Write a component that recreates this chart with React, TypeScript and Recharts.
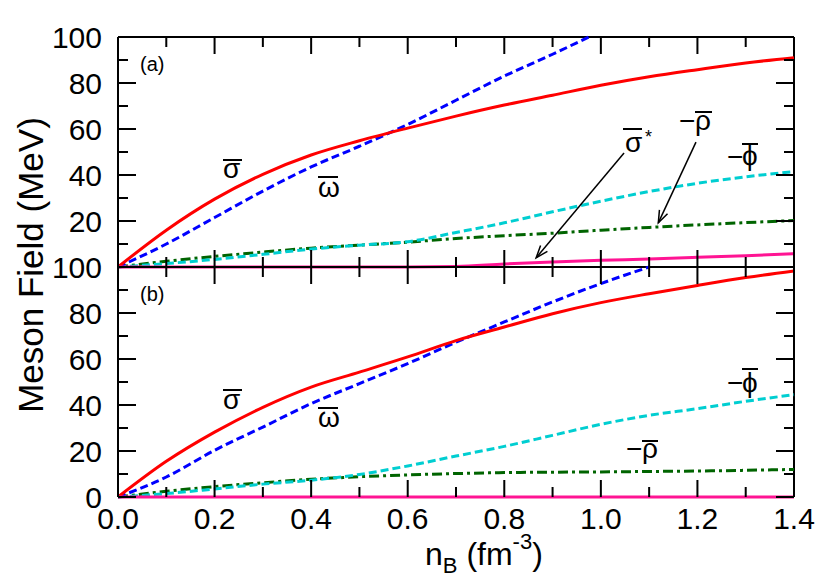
import React from 'react'
import { LineChart, Line, XAxis, YAxis, ReferenceLine } from 'recharts'

// density grid (fm^-3) and tick values
const nB = [0, 0.1, 0.2, 0.3, 0.4, 0.5, 0.6, 0.7, 0.8, 0.9, 1.0, 1.1, 1.2, 1.3, 1.4]
const xTicks = [0, 0.1, 0.2, 0.3, 0.4, 0.5, 0.6, 0.7, 0.8, 0.9, 1.0, 1.1, 1.2, 1.3, 1.4]
const yTicks = [0, 10, 20, 30, 40, 50, 60, 70, 80, 90, 100]

// panel (a)
const sigmaA = [0, 16.0, 29.5, 40.3, 48.7, 54.9, 60.4, 65.6, 70.4, 74.7, 79.0, 82.7, 85.8, 88.7, 91.0]
const rhoA = [0, 2.5, 4.6, 6.5, 8.2, 9.5, 10.8, 12.4, 13.6, 14.7, 16.0, 17.2, 18.3, 19.3, 20.2]
const phiA = [0, 1.5, 3.3, 5.5, 7.8, 9.5, 11.0, 15.0, 19.2, 24.0, 28.6, 32.8, 36.4, 39.2, 41.5]
const sigmaStarA = [0, 0, 0, 0, 0, 0, 0, 0.2, 1.3, 2.2, 2.9, 3.5, 4.2, 4.9, 5.8]
const omegaA_n = [0, 0.1, 0.2, 0.3, 0.4, 0.5, 0.6, 0.7, 0.8, 0.9, 0.975]
const omegaA = [0, 10, 21.5, 33, 43.5, 52.5, 62, 72.5, 83, 92.5, 100]

// panel (b)
const sigmaB = [0, 15.5, 28.2, 39.0, 47.8, 54.3, 60.9, 68.0, 73.9, 79.7, 84.5, 88.4, 92.0, 95.4, 98.3]
const rhoB = [0, 2.5, 4.5, 6.2, 7.7, 8.8, 9.6, 10.2, 10.6, 10.8, 10.9, 11.1, 11.3, 11.6, 12.0]
const phiB = [0, 1.5, 3.5, 5.6, 7.3, 9.8, 13.5, 17.8, 22.0, 26.8, 31.6, 35.5, 38.4, 41.6, 44.5]
const sigmaStarB = [0, 0, 0, 0, 0, 0, 0, 0, 0, 0, 0, 0, 0, 0, 0]
const omegaB_n = [0, 0.1, 0.2, 0.3, 0.4, 0.5, 0.6, 0.7, 0.8, 0.9, 1.0, 1.1]
const omegaB = [0, 8.7, 20.3, 30.4, 40.6, 49.3, 58, 67.3, 76.1, 84.8, 92.8, 100]

const rowsA = nB.map((n, i) => ({ n, sigma: sigmaA[i], rho: rhoA[i], phi: phiA[i], sstar: sigmaStarA[i] }))
const rowsB = nB.map((n, i) => ({ n, sigma: sigmaB[i], rho: rhoB[i], phi: phiB[i], sstar: sigmaStarB[i] }))
const omegaRowsA = omegaA_n.map((n, i) => ({ n, omega: omegaA[i] }))
const omegaRowsB = omegaB_n.map((n, i) => ({ n, omega: omegaB[i] }))

const FONT = "'Liberation Sans', Arial, Helvetica, sans-serif"
const W = 830
const LEFT = 118
const RIGHT = 36
const TOP = 37
const PLOT_W = W - LEFT - RIGHT
const PLOT_H = 230
const PANEL_B_TOP = TOP + PLOT_H

const isMajorX = (v: number) => Math.round(v * 10) % 2 === 0
const isMajorY = (v: number) => v % 20 === 0

function XLabel(props: any) {
  const v = props.payload.value
  if (!props.showLabel || !isMajorX(v)) return <g />
  return (
    <text x={props.x} y={Number(props.y) + 32} textAnchor="middle" fontSize={30} fontFamily={FONT} fill="#000">
      {v.toFixed(1)}
    </text>
  )
}

function YLabel(props: any) {
  const v = props.payload.value
  if (!isMajorY(v) || (props.skipZero && v === 0)) return <g />
  return (
    <text x={Number(props.x) - 16} y={Number(props.y) + 10.5} textAnchor="end" fontSize={30} fontFamily={FONT} fill="#000">
      {v}
    </text>
  )
}

function Arrow(props: any) {
  const { x1, y1, x2, y2 } = props
  const a = Math.atan2(y2 - y1, x2 - x1)
  const h = 13
  const s = 0.35
  const p1 = [x2 - h * Math.cos(a - s), y2 - h * Math.sin(a - s)]
  const p2 = [x2 - h * Math.cos(a + s), y2 - h * Math.sin(a + s)]
  return (
    <g>
      <line x1={x1} y1={y1} x2={x2} y2={y2} stroke="#000" strokeWidth={1.5} />
      <polyline points={`${p1[0]},${p1[1]} ${x2},${y2} ${p2[0]},${p2[1]}`} fill="none" stroke="#000" strokeWidth={1.5} />
    </g>
  )
}

// inward tick marks on all four sides of a panel whose plot top is at `top`
function tickPath(top: number) {
  const bottom = top + PLOT_H
  const right = LEFT + PLOT_W
  let d = ''
  xTicks.forEach((v) => {
    const x = LEFT + (v / 1.4) * PLOT_W
    const l = isMajorX(v) ? 17 : 10
    d += `M${x},${bottom}L${x},${bottom - l}M${x},${top}L${x},${top + l}`
  })
  yTicks.forEach((v) => {
    const y = top + ((100 - v) / 100) * PLOT_H
    const l = isMajorY(v) ? 18 : 10
    d += `M${LEFT},${y}L${LEFT + l},${y}M${right},${y}L${right - l},${y}`
  })
  return d
}

function Panel({ rows, omegaRows, bottomLabels, arrows }: any) {
  const h = TOP + PLOT_H + (bottomLabels ? 83 : 20)
  return (
    <LineChart
      width={W}
      height={h}
      data={rows}
      margin={{ top: TOP, right: RIGHT, left: LEFT - 1, bottom: h - TOP - PLOT_H - 1 }}
    >
      <XAxis
        dataKey="n"
        type="number"
        domain={[0, 1.4]}
        ticks={xTicks}
        interval={0}
        height={1}
        tickSize={0}
        tickMargin={0}
        axisLine={false}
        tickLine={false}
        tick={(p: any) => <XLabel {...p} showLabel={bottomLabels} />}
      />
      <YAxis
        type="number"
        domain={[0, 100]}
        ticks={yTicks}
        interval={0}
        width={1}
        tickSize={0}
        tickMargin={0}
        axisLine={false}
        tickLine={false}
        tick={(p: any) => <YLabel {...p} skipZero={!bottomLabels} />}
      />
      <ReferenceLine y={100} stroke="#000" strokeWidth={2} />
      <ReferenceLine x={0} stroke="#000" strokeWidth={2} />
      <ReferenceLine x={1.4} stroke="#000" strokeWidth={2} />
      <ReferenceLine y={0} stroke="#000" strokeWidth={2} />
      <Line dataKey="rho" type="monotone" stroke="#006400" strokeWidth={3} strokeDasharray="10 4 3 4" dot={false} isAnimationActive={false} />
      <Line dataKey="phi" type="monotone" stroke="#00ced1" strokeWidth={3} strokeDasharray="8 4" dot={false} isAnimationActive={false} />
      <Line data={omegaRows} dataKey="omega" type="monotone" stroke="#0000ff" strokeWidth={3} strokeDasharray="8 4" dot={false} isAnimationActive={false} />
      <Line dataKey="sigma" type="monotone" stroke="#ff0000" strokeWidth={3} dot={false} isAnimationActive={false} />
      <Line dataKey="sstar" type="monotone" stroke="#ff1493" strokeWidth={3} dot={false} isAnimationActive={false} />
      {arrows && (
        <ReferenceLine segment={[{ x: 1.048, y: 49.6 }, { x: 0.866, y: 4.0 }]} shape={Arrow} />
      )}
      {arrows && (
        <ReferenceLine segment={[{ x: 1.197, y: 54.3 }, { x: 1.119, y: 19.2 }]} shape={Arrow} />
      )}
    </LineChart>
  )
}

function Greek({ x, y, ch, bar, size = 28 }: any) {
  return (
    <g>
      <text x={x} y={y} fontSize={size} fontFamily={FONT} fill="#000">{ch}</text>
      <line x1={bar[0]} y1={bar[2]} x2={bar[1]} y2={bar[2]} stroke="#000" strokeWidth={2} />
    </g>
  )
}

function Minus({ x, y }: any) {
  return <text x={x} y={y} fontSize={28} fontFamily={FONT} fill="#000">−</text>
}

export default function App() {
  return (
    <div style={{ position: 'absolute', left: 0, top: 0, width: W, height: 580, background: '#fff', fontFamily: FONT }}>
      <div style={{ position: 'absolute', left: 0, top: 0 }}>
        <Panel rows={rowsA} omegaRows={omegaRowsA} bottomLabels={false} arrows={true} />
      </div>
      <div style={{ position: 'absolute', left: 0, top: PANEL_B_TOP - TOP }}>
        <Panel rows={rowsB} omegaRows={omegaRowsB} bottomLabels={true} arrows={false} />
      </div>
      <svg width={W} height={580} style={{ position: 'absolute', left: 0, top: 0, pointerEvents: 'none' }}>
        <path d={tickPath(TOP)} stroke="#000" strokeWidth={2} fill="none" />
        <path d={tickPath(PANEL_B_TOP)} stroke="#000" strokeWidth={2} fill="none" />

        <text x={43} y={265} transform="rotate(-90, 43, 265)" textAnchor="middle" fontSize={35} fontFamily={FONT} fill="#000">
          Meson Field (MeV)
        </text>
        <text x={425} y={565} fontSize={32} fontFamily={FONT} fill="#000">
          n<tspan fontSize={22} dy={8}>B</tspan>
          <tspan dy={-8}> (fm</tspan>
          <tspan fontSize={22} dy={-16}>-3</tspan>
          <tspan dy={16}>)</tspan>
        </text>

        {/* panel (a) labels */}
        <text x={140} y={71} fontSize={20} fontFamily={FONT} fill="#000">(a)</text>
        <Greek x={223} y={178} ch="σ" bar={[223, 242, 160]} />
        <Greek x={318} y={197} ch="ω" bar={[318, 338, 177]} />
        <Greek x={625} y={152} ch="σ" bar={[623, 642, 129]} />
        <text x={645} y={143} fontSize={18} fontFamily={FONT} fill="#000">*</text>
        <Minus x={679} y={130} />
        <Greek x={695} y={130} ch="ρ" bar={[695, 712, 112]} />
        <Minus x={727} y={166} />
        <Greek x={742} y={165} ch="ϕ" bar={[742, 758, 144]} />

        {/* panel (b) labels */}
        <text x={140} y={301} fontSize={20} fontFamily={FONT} fill="#000">(b)</text>
        <Greek x={223} y={409} ch="σ" bar={[223, 242, 390]} />
        <Greek x={318} y={427} ch="ω" bar={[318, 338, 408]} />
        <Minus x={727} y={392} />
        <Greek x={742} y={392} ch="ϕ" bar={[742, 758, 369]} />
        <Minus x={626} y={458} />
        <Greek x={642} y={458} ch="ρ" bar={[642, 658, 441]} />
      </svg>
    </div>
  )
}
